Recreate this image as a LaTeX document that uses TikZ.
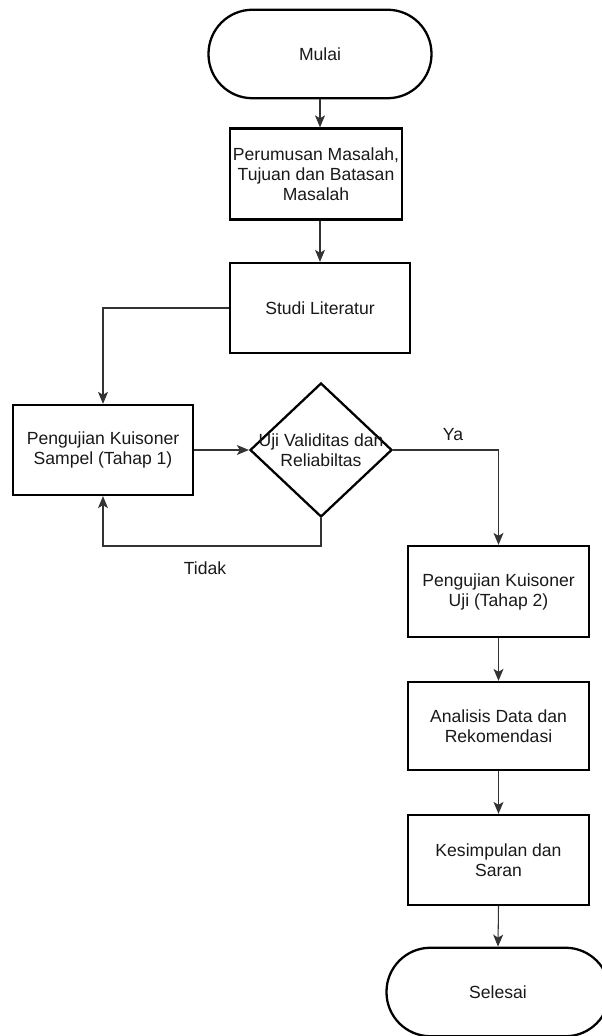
\documentclass[tikz,border=0pt]{standalone}
\usepackage{fontspec}
\setmainfont{Liberation Sans}
\usetikzlibrary{arrows.meta,shapes.geometric}

\begin{document}
\begin{tikzpicture}[
    x=1cm,y=1cm,
    every node/.style={font=\fontsize{10}{11.4}\selectfont, text=black!90},
    frame/.style={draw=black, line width=1.3pt},
    term/.style={frame, rounded corners=0.88cm, minimum width=4.46cm, minimum height=1.77cm, align=center},
    proc/.style={frame, minimum width=3.62cm, minimum height=1.8cm, align=center, inner sep=1pt},
    decide/.style={frame, diamond, minimum width=2.84cm, minimum height=2.68cm, inner sep=0pt},
    conn/.style={-{Stealth[length=2.4mm,width=2mm,inset=0.6mm]}, line width=0.6pt, draw=black!80}
]
    \useasboundingbox (0,0) rectangle (12.04,20.72);

    \node[term] (mulai) at (6.40,19.64) {Mulai};
    \node[proc, minimum width=3.44cm, minimum height=1.82cm] (rumus) at (6.32,17.24) {Perumusan Masalah,\\Tujuan dan Batasan\\Masalah};
    \node[proc, minimum width=3.6cm] (studi) at (6.40,14.56) {Studi Literatur};

    \node[proc, minimum width=3.6cm] (sampel) at (2.06,11.72) {Pengujian Kuisoner\\Sampel (Tahap 1)};
    \node[decide, label={[align=center]center:Uji Validitas dan\\Reliabiltas}] (valid) at (6.42,11.72) {};

    \node[proc, minimum height=1.82cm] (tahap2) at (9.97,8.89) {Pengujian Kuisoner\\Uji (Tahap 2)};
    \node[proc, minimum height=1.76cm] (analisis) at (9.97,6.20) {Analisis Data dan\\Rekomendasi};
    \node[proc] (simpul) at (9.97,3.52) {Kesimpulan dan\\Saran};
    \node[term] (selesai) at (9.96,0.88) {Selesai};

    \node (ya) at (9.06,12.02) {Ya};
    \node (tidak) at (4.10,9.36) {Tidak};
    \coordinate (balik) at (6.42,9.80);

    \draw[conn] (mulai.south) -- (mulai.south |- rumus.north);
    \draw[conn] (studi.north |- rumus.south) -- (studi.north);
    \draw[conn] (studi.west) -| (sampel.north);
    \draw[conn] (sampel.east) -- (valid.west);
    \draw[conn] (valid.east) -| (tahap2.north);
    \draw[conn] (valid.south) -- (balik) -| (sampel.south);
    \draw[conn] (tahap2.south) -- (analisis.north);
    \draw[conn] (analisis.south) -- (simpul.north);
    \draw[conn] (simpul.south) -- (selesai.north);
\end{tikzpicture}
\end{document}
